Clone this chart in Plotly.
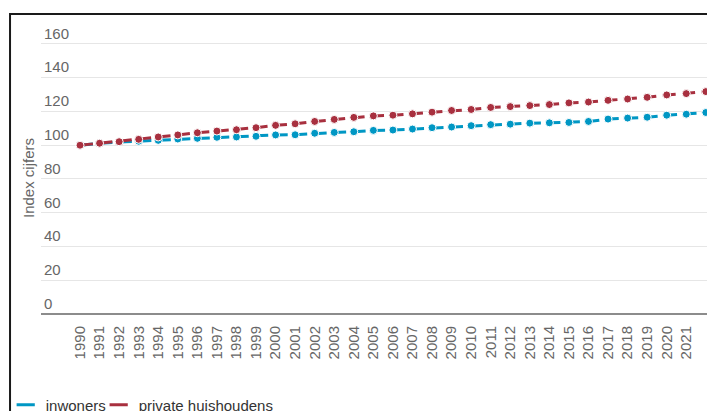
import plotly.graph_objects as go

years = list(range(1990, 2023))
inwoners = [100.0, 101.2, 101.9, 102.4, 102.9, 103.7, 104.1, 104.7, 104.9, 105.3,
            106.1, 106.2, 107.1, 107.6, 108.0, 108.8, 109.0, 109.6, 110.4, 110.8,
            111.6, 112.2, 112.5, 113.1, 113.3, 113.5, 114.1, 115.5, 116.1, 116.6,
            117.8, 118.4, 119.4]
huishoudens = [100.0, 101.2, 102.1, 103.5, 104.9, 106.1, 107.4, 108.4, 109.2, 110.4,
               111.8, 112.7, 114.1, 115.3, 116.5, 117.4, 117.8, 118.6, 119.6, 120.6,
               121.2, 122.4, 122.9, 123.5, 124.1, 125.1, 125.6, 126.6, 127.4, 128.4,
               129.8, 130.6, 131.8]
series_names = ["inwoners", "private huishoudens"]
colors = ["#0097c4", "#a8303f"]
y_ticks = [0, 20, 40, 60, 80, 100, 120, 140, 160]
y_title = "Index cijfers"

FONT = "Liberation Sans, Arial, sans-serif"

fig = go.Figure()
legends = ["legend", "legend2"]
for name, vals, col, lg in zip(series_names, [inwoners, huishoudens], colors, legends):
    fig.add_trace(go.Scatter(
        x=years, y=vals, mode="lines+markers", name=name, showlegend=False,
        line=dict(color=col, width=3, dash="13px,6.5px"),
        marker=dict(color=col, size=8, line=dict(color="white", width=1)),
        cliponaxis=False,
    ))
    fig.add_trace(go.Scatter(
        x=[None], y=[None], mode="markers", name=name, showlegend=True, legend=lg,
        marker=dict(symbol="line-ew", size=13, color=col, line=dict(color=col, width=3)),
    ))

legend_common = dict(orientation="h", xanchor="left", y=-0.3074, yanchor="middle",
                     font=dict(size=15, color="#333333"), bgcolor="rgba(0,0,0,0)",
                     itemclick=False, itemdoubleclick=False)

fig.update_layout(
    width=707, height=411,
    margin=dict(l=41, r=0, t=18, b=97, autoexpand=False),
    paper_bgcolor="white", plot_bgcolor="white",
    font=dict(family=FONT, size=15, color="#666666"),
    showlegend=True,
    legend=dict(x=-0.053, **legend_common),
    legend2=dict(x=0.0866, **legend_common),
    xaxis=dict(
        range=[1988.005, 2022.06], tickmode="array", tickvals=years,
        ticktext=[str(y) for y in years], tickangle=-90,
        showgrid=False, zeroline=False,
        showline=False,
        ticks="outside", ticklen=5, tickcolor="rgba(0,0,0,0)",
        tickfont=dict(size=15, color="#666666"),
        fixedrange=True,
    ),
    yaxis=dict(
        range=[0, 175.4], tickmode="array", tickvals=y_ticks,
        ticklabelposition="inside top",
        showgrid=True, gridcolor="#e6e6e6", gridwidth=1,
        zeroline=True, zerolinecolor="#8c8c8c", zerolinewidth=2,
        showline=False, ticks="",
        tickfont=dict(size=15, color="#666666"),
        fixedrange=True,
    ),
    annotations=[dict(text=y_title, xref="paper", yref="paper", x=-0.018, y=0.4595,
                      xanchor="center", yanchor="middle", textangle=-90, showarrow=False,
                      font=dict(size=15, color="#666666"))],
    shapes=[dict(type="rect", xref="paper", yref="paper",
                 x0=-0.0465, x1=1.02, y0=-0.36, y1=1.0135,
                 line=dict(color="#1a1a1a", width=2), fillcolor="rgba(0,0,0,0)",
                 layer="below")],
)

fig.write_html(
    "out.html",
    config={"displayModeBar": False},
    post_script="document.body.style.margin='0';document.body.style.overflow='hidden';",
)
